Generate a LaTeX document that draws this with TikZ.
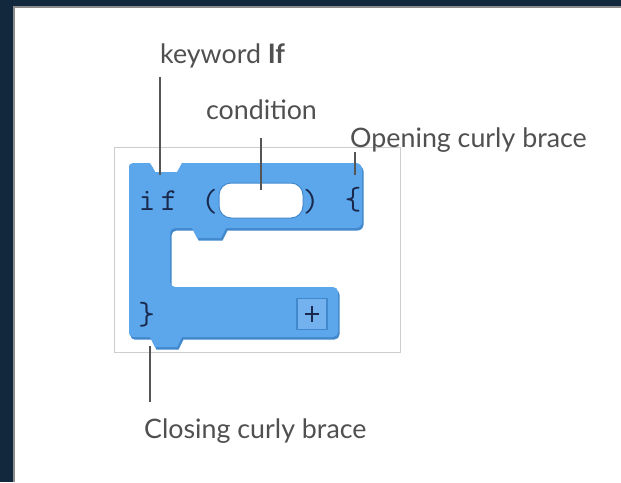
\documentclass[tikz,border=0pt]{standalone}
\usepackage{fontspec}
\setmainfont{Lato}
\definecolor{bgdark}{RGB}{18,40,60}
\definecolor{panelline}{RGB}{140,140,140}
\definecolor{boxgray}{RGB}{205,205,205}
\definecolor{blk}{RGB}{92,167,236}
\definecolor{blkdark}{RGB}{66,136,205}
\definecolor{plusfill}{RGB}{115,178,238}
\definecolor{codecol}{RGB}{25,40,75}
\definecolor{labcol}{RGB}{80,80,80}
\definecolor{leadcol}{RGB}{85,85,85}
\tikzset{
  lab/.style={inner sep=0pt, text=labcol, font=\fontsize{26.8}{28}\selectfont},
  code/.style={inner sep=0pt, text=codecol, font=\ttfamily\fontsize{32}{34}\selectfont},
  leader/.style={draw=leadcol, line width=1.6pt},
}
\begin{document}
\begin{tikzpicture}[x=1pt,y=-1pt]
\useasboundingbox (0,0) rectangle (621,482);
\fill[bgdark] (0,0) rectangle (621,482);
\fill[white] (14,7) rectangle (621,482);
\draw[panelline, line width=1.2pt] (14,482) -- (14,7) -- (621,7);
\draw[boxgray, line width=1pt] (114,147) rectangle (400,352);
% block shadow
\def\blockpath{(129,167) [rounded corners=4pt] -- (129,163) [sharp corners] -- (150,163) -- (155,172) -- (177,172) -- (182,163) [rounded corners=6pt] -- (362,163) -- (362,228) [sharp corners] -- (226,228) -- (221,238) -- (197,238) -- (192,228) [rounded corners=5pt] -- (170,228) -- (170,287) -- (338,287) -- (338,337) [sharp corners] -- (182,337) -- (177,347) -- (155,347) -- (150,337) [rounded corners=4pt] -- (129,337) -- cycle}
\fill[blkdark, shift={(1.5,2.5)}] \blockpath;
\fill[blk] \blockpath;
% condition slot
\node[draw=blkdark, line width=1pt, fill=white, rounded corners=12pt, minimum width=84pt, minimum height=35pt, inner sep=0pt] (slot) at (261,200.5) {};
% plus button
\node[draw=blkdark, line width=1.2pt, fill=plusfill, minimum width=30pt, minimum height=31pt, inner sep=0pt] (plus) at (312,314) {};
\draw[codecol, line width=1.3pt] ([yshift=8pt]plus.center) -- ([yshift=-8pt]plus.center) ([xshift=-7pt]plus.center) -- ([xshift=7pt]plus.center);
% code text
\node[code, anchor=base] (ki) at (147,210) {i};
\node[code, anchor=base] (kf) at (169,210) {f};
\node[code] (lpar) at (209.5,202) {(};
\node[code] (rpar) at (311,202) {)};
\node[code] (lbr) at (353,200) {\{};
\node[code] (rbr) at (146.5,315) {\}};
% labels
\node[lab, anchor=base west] (kw) at (160,63) {keyword \textbf{If}};
\node[lab, anchor=base] (cond) at (261.5,119) {condition};
\node[lab, anchor=base west] (open) at (350,147) {Opening curly brace};
\node[lab, anchor=base west] (close) at (144,438) {Closing curly brace};
% leader targets
\coordinate (kwend) at (160,175);
\coordinate (condend) at (261,190);
\coordinate (openend) at (355,175);
\coordinate (closeend) at (150,346);
\draw[leader] (kw.south west |- 0,77) -- (kwend);
\draw[leader] (condend |- 0,138) -- (condend);
\draw[leader] (openend |- 0,152) -- (openend);
\draw[leader] (closeend) -- (closeend |- 0,402);
\end{tikzpicture}
\end{document}
